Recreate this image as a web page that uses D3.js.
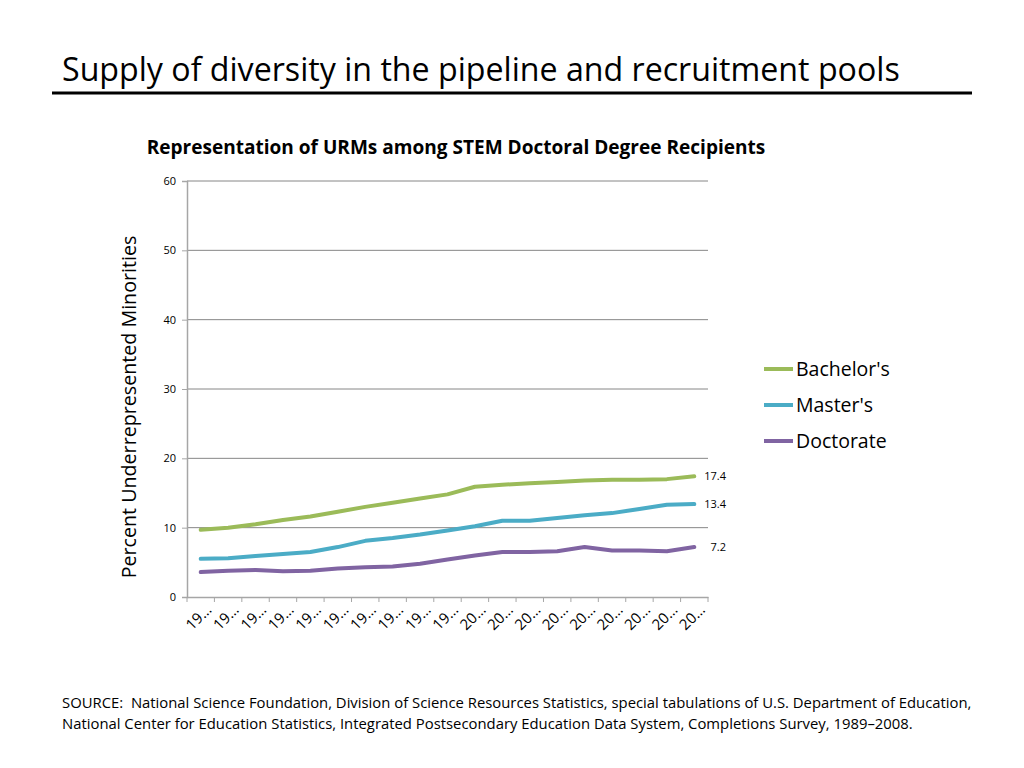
<!DOCTYPE html>
<html>
<head>
<meta charset="utf-8">
<script src="https://cdn.jsdelivr.net/npm/d3@7"></script>
<style>
  body { margin: 0; background: #fff; }
  svg text { font-family: "Open Sans", "Noto Sans", sans-serif; fill: #000; }
</style>
</head>
<body>
<div id="chart"></div>
<script>
// values, 1990-2008
var years = ["1990","1991","1992","1993","1994","1995","1996","1997","1998","1999",
             "2000","2001","2002","2003","2004","2005","2006","2007","2008"];
var bachelors = [9.7,10.0,10.5,11.1,11.6,12.3,13.0,13.6,14.2,14.8,15.9,16.2,16.4,16.6,16.8,16.9,16.9,17.0,17.4];
var masters   = [5.5,5.6,5.9,6.2,6.5,7.2,8.1,8.5,9.0,9.6,10.2,11.0,11.0,11.4,11.8,12.1,12.7,13.3,13.4];
var doctorate = [3.6,3.8,3.9,3.7,3.8,4.1,4.3,4.4,4.8,5.4,6.0,6.5,6.5,6.6,7.2,6.7,6.7,6.6,7.2];
var seriesNames = ["Bachelor's","Master's","Doctorate"];
var seriesColors = ["#9bbb59","#4bacc6","#8064a2"];
var yTicks = [0,10,20,30,40,50,60];

var width = 1024, height = 768;
var svg = d3.select("#chart").append("svg")
            .attr("width",width)
            .attr("height",height);

// shrink/grow a text so it spans the wanted width
function fitText(t, w){
    var len = t.node().getComputedTextLength();
    var fs = parseFloat(t.attr("font-size"));
    t.attr("font-size", fs * w / len);
}

// slide title + rule
var title = svg.append("text")
    .attr("x",62).attr("y",81)
    .attr("font-size",32)
    .text("Supply of diversity in the pipeline and recruitment pools");
fitText(title, 838);
svg.append("line")
    .attr("x1",52).attr("x2",972)
    .attr("y1",93).attr("y2",93)
    .attr("stroke","#000").attr("stroke-width",3);

// chart
var x = d3.scaleBand().domain(years).range([187,708]);
var y = d3.scaleLinear().domain([0,60]).range([597,181]);

var grid = svg.append("g");
grid.selectAll("line").data(yTicks.slice(1)).enter().append("line")
    .attr("x1",187).attr("x2",708)
    .attr("y1",function(d){ return y(d); })
    .attr("y2",function(d){ return y(d); })
    .attr("stroke","#868686").attr("stroke-width",1);

var yAxis = svg.append("g")
    .attr("transform","translate(187,0)")
    .call(d3.axisLeft(y).tickValues(yTicks).tickSize(5).tickPadding(6));
yAxis.select(".domain").attr("stroke","#a6a6a6").attr("stroke-width",1.5);
yAxis.selectAll(".tick line").attr("stroke","#a6a6a6");
yAxis.selectAll(".tick text").attr("font-size",11).attr("font-family","Open Sans").attr("fill","#000");

var xAxis = svg.append("g")
    .attr("transform","translate(0,597)")
    .call(d3.axisBottom(x).tickSize(0).tickFormat(function(d){ return d.slice(0,2) + "\u2026"; }));
xAxis.select(".domain").attr("stroke","#a6a6a6").attr("stroke-width",1.5);
xAxis.selectAll(".tick text")
    .attr("font-size",15).attr("font-family","Open Sans").attr("fill","#000")
    .attr("text-anchor","end")
    .attr("x",0).attr("y",0).attr("dy","0.35em")
    .attr("transform","translate(8,10) rotate(-45)");
// tick marks at category edges
svg.append("g").selectAll("line")
    .data(years.concat(["end"])).enter().append("line")
    .attr("x1",function(d,i){ return i < years.length ? x(d) : x.range()[1]; })
    .attr("x2",function(d,i){ return i < years.length ? x(d) : x.range()[1]; })
    .attr("y1",597).attr("y2",602)
    .attr("stroke","#a6a6a6");

var chartTitle = svg.append("text")
    .attr("x",456).attr("y",154)
    .attr("text-anchor","middle")
    .attr("font-size",17).attr("font-weight","bold")
    .text("Representation of URMs among STEM Doctoral Degree Recipients");
fitText(chartTitle, 619);

var yLabel = svg.append("text")
    .attr("transform","translate(136,407) rotate(-90)")
    .attr("text-anchor","middle")
    .attr("font-size",17)
    .text("Percent Underrepresented Minorities");
fitText(yLabel, 343);

var allSeries = [bachelors, masters, doctorate];
var line = d3.line()
    .x(function(d,i){ return x(years[i]) + x.bandwidth()/2; })
    .y(function(d){ return y(d); });

svg.append("g").selectAll("path").data(allSeries).enter().append("path")
    .attr("d",line)
    .attr("fill","none")
    .attr("stroke",function(d,i){ return seriesColors[i]; })
    .attr("stroke-width",4)
    .attr("stroke-linejoin","round")
    .attr("stroke-linecap","round");

// end value labels
svg.append("g").selectAll("text").data(allSeries).enter().append("text")
    .attr("x",726)
    .attr("y",function(d){ return y(d[d.length-1]); })
    .attr("dy","0.35em")
    .attr("text-anchor","end")
    .attr("font-size",11)
    .text(function(d){ return d[d.length-1].toFixed(1); });

// legend
var legend = svg.append("g").selectAll("g").data(seriesNames).enter().append("g")
    .attr("transform",function(d,i){ return "translate(764," + (369 + i*36) + ")"; });
legend.append("line")
    .attr("x1",0).attr("x2",29)
    .attr("stroke",function(d,i){ return seriesColors[i]; })
    .attr("stroke-width",4);
legend.append("text")
    .attr("x",32).attr("dy","0.35em")
    .attr("font-size",19.5)
    .text(function(d){ return d; });

// source note
var src1 = svg.append("text").attr("x",62).attr("y",708).attr("font-size",14)
    .style("white-space","pre")
    .text("SOURCE:  National Science Foundation, Division of Science Resources Statistics, special tabulations of U.S. Department of Education,");
fitText(src1, 910);
var src2 = svg.append("text").attr("x",62).attr("y",729).attr("font-size",14)
    .text("National Center for Education Statistics, Integrated Postsecondary Education Data System, Completions Survey, 1989\u20132008.");
src2.attr("font-size", src1.attr("font-size"));
</script>
</body>
</html>
